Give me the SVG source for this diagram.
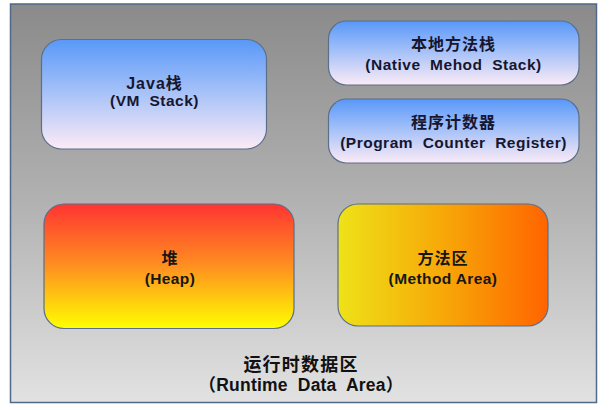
<svg xmlns="http://www.w3.org/2000/svg" width="609" height="410" viewBox="0 0 609 410">
<defs>
<linearGradient id="bg" x1="0" y1="0" x2="0" y2="1">
<stop offset="0" stop-color="#8a8a8a"/>
<stop offset="0.5" stop-color="#b2b2b2"/>
<stop offset="1" stop-color="#e2e2e2"/>
</linearGradient>
<linearGradient id="blue" x1="0" y1="0" x2="0" y2="1">
<stop offset="0" stop-color="#5898f8"/>
<stop offset="0.5" stop-color="#a9c3f8"/>
<stop offset="1" stop-color="#fcebf6"/>
</linearGradient>
<linearGradient id="heap" x1="0" y1="0" x2="0" y2="1">
<stop offset="0" stop-color="#ff3432"/>
<stop offset="0.5" stop-color="#ff9020"/>
<stop offset="1" stop-color="#ffff00"/>
</linearGradient>
<linearGradient id="method" x1="0" y1="0" x2="1" y2="0">
<stop offset="0" stop-color="#eee218"/>
<stop offset="0.5" stop-color="#f7a808"/>
<stop offset="1" stop-color="#ff6400"/>
</linearGradient>
</defs>
<style>
.node{stroke:#5b6f88;stroke-width:1.2}
text{font-family:"Liberation Sans","Noto Sans CJK SC",sans-serif;font-weight:bold;text-anchor:middle;white-space:pre}
.t{font-size:15.5px;letter-spacing:0.5px;fill:#161630}
.w{font-size:15.5px;letter-spacing:0.4px;fill:#161616}
.c{font-size:16px;letter-spacing:1px}
.b1{font-size:18px;letter-spacing:1.2px;fill:#111}
.b2{font-size:17.5px;letter-spacing:0.2px;fill:#111}
</style>
<g id="runtime-data-area">
<rect x="10.5" y="4" width="586" height="398.5" fill="url(#bg)" stroke="#4e6a88" stroke-width="1.5"/>
<text class="b1" x="301" y="371">运行时数据区</text>
<text class="b2" x="301" y="391">（Runtime  Data  Area）</text>
</g>
<g id="java-stack">
<rect class="node" x="41.5" y="39.5" width="225" height="109.5" rx="20" fill="url(#blue)"/>
<text class="t c" x="154.5" y="89">Java栈</text>
<text class="t" x="154.5" y="106">(VM  Stack)</text>
</g>
<g id="native-stack">
<rect class="node" x="328.5" y="21" width="250.5" height="64" rx="18" fill="url(#blue)"/>
<text class="t c" x="453.5" y="50">本地方法栈</text>
<text class="t" x="453.5" y="70">(Native  Mehod  Stack)</text>
</g>
<g id="program-counter">
<rect class="node" x="328.5" y="99" width="250.5" height="64" rx="18" fill="url(#blue)"/>
<text class="t c" x="453.5" y="128">程序计数器</text>
<text class="t" x="453.5" y="148">(Program  Counter  Register)</text>
</g>
<g id="heap">
<rect class="node" x="44" y="204" width="250" height="124.5" rx="20" fill="url(#heap)"/>
<text class="w c" x="170" y="264">堆</text>
<text class="w" x="170" y="284">(Heap)</text>
</g>
<g id="method-area">
<rect class="node" x="338" y="204" width="210" height="122" rx="20" fill="url(#method)"/>
<text class="w c" x="443" y="264">方法区</text>
<text class="w" x="443" y="284">(Method Area)</text>
</g>
<g id="connectors"/>
</svg>
